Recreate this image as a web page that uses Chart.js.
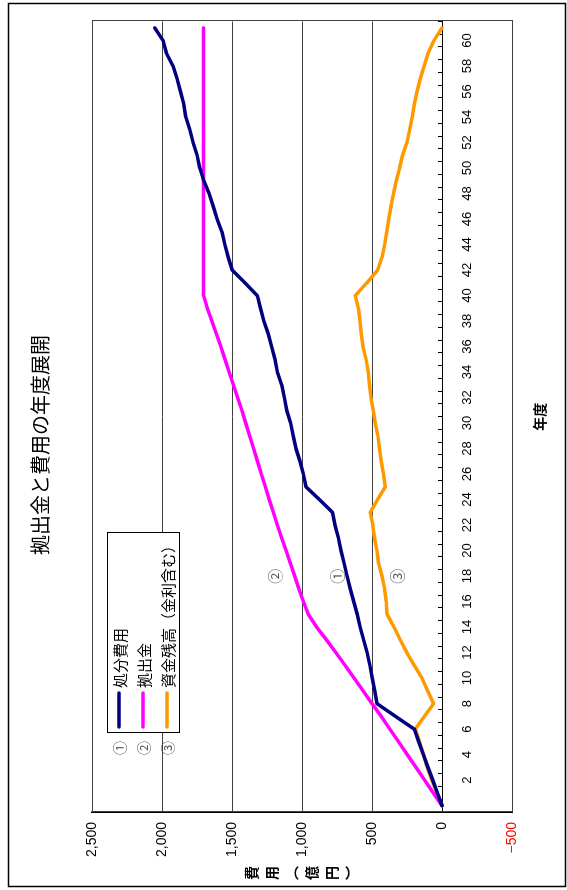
<!DOCTYPE html>
<html lang="ja">
<head>
<meta charset="utf-8">
<title>拠出金と費用の年度展開</title>
<script src="https://cdn.jsdelivr.net/npm/chart.js@4.4.1/dist/chart.umd.min.js"></script>
<style>
  html, body { margin: 0; padding: 0; background: #fff; overflow: hidden; }
  body { width: 567px; height: 890px; position: relative; }
  /* the chart is laid out landscape and turned a quarter turn counter-clockwise */
  #wrap {
    position: absolute; left: 0; top: 0;
    width: 890px; height: 567px;
    transform-origin: 0 0;
    transform: translate(0px, 890px) rotate(-90deg);
    background: #fff;
  }
  canvas { display: block; }
</style>
</head>
<body>
<div id="wrap"><canvas id="chart" width="890" height="567" style="width:890px;height:567px"></canvas></div>
<script>
// 年度 (categories)
const years = [0, 1, 2, 3, 4, 5, 6, 7, 8, 9, 10, 11, 12, 13, 14, 15, 16, 17, 18, 19,
  20, 21, 22, 23, 24, 25, 26, 27, 28, 29, 30, 31, 32, 33, 34, 35, 36, 37, 38, 39,
  40, 41, 42, 43, 44, 45, 46, 47, 48, 49, 50, 51, 52, 53, 54, 55, 56, 57, 58, 59, 60, 61];

// ① 処分費用 (億円)
const disposalCost = [0, 33, 66, 100, 133, 166, 198, 332, 465, 480,
  498, 515, 535, 560, 585, 605, 630, 655, 678, 699,
  721, 740, 764, 782, 875, 971, 990, 1014, 1043, 1062,
  1081, 1109, 1126, 1145, 1176, 1193, 1217, 1241, 1272, 1296,
  1319, 1408, 1498, 1527, 1551, 1572, 1606, 1634, 1663, 1701,
  1730, 1749, 1778, 1801, 1830, 1844, 1868, 1892, 1921, 1968,
  1992, 2052];

// ② 拠出金 (億円)
const contributions = [0, 62, 124, 186, 248, 310, 372, 434, 500, 563,
  628, 692, 758, 825, 895, 955, 990, 1022, 1052, 1083,
  1114, 1145, 1176, 1205, 1234, 1262, 1290, 1318, 1346, 1374,
  1402, 1430, 1460, 1490, 1520, 1550, 1580, 1612, 1644, 1676,
  1703, 1703, 1703, 1703, 1703, 1703, 1703, 1703, 1703, 1703,
  1703, 1703, 1703, 1703, 1703, 1703, 1703, 1703, 1703, 1703,
  1703, 1703];

// ③ 資金残高（金利含む） (億円)
const fundBalance = [0, 36, 72, 107, 131, 160, 191, 126, 60, 103,
  143, 198, 251, 298, 343, 392, 398, 410, 429, 453,
  465, 482, 494, 513, 460, 406, 418, 434, 446, 458,
  477, 491, 508, 518, 527, 542, 565, 577, 585, 597,
  620, 537, 460, 429, 410, 394, 380, 365, 346, 327,
  303, 282, 251, 231, 212, 198, 179, 155, 128, 100,
  58, 0];

// value axis ticks and their labels
const valueTicks = [-500, 0, 500, 1000, 1500, 2000, 2500];
const valueTickLabels = ['−500', '0', '500', '1,000', '1,500', '2,000', '2,500'];

const seriesNames = ['処分費用', '拠出金', '資金残高（金利含む）'];
const seriesMarks = ['①', '②', '③'];
const seriesColors = ['#000080', '#FF00FF', '#FF9900'];

const JP = '"Noto Sans CJK JP", "Noto Sans", sans-serif';
const NUM = '"Liberation Sans", Arial, sans-serif';

// frame, plot border, titles, legend and in-plot markers
const decorations = {
  id: 'decorations',
  beforeDraw(chart) {
    const { ctx, width, height } = chart;
    ctx.save();
    ctx.fillStyle = '#fff';
    ctx.fillRect(0, 0, width, height);
    ctx.strokeStyle = '#000';
    ctx.lineWidth = 1.5;
    ctx.strokeRect(3.5, 8.5, width - 7, height - 10);
    ctx.restore();
  },
  beforeDatasetsDraw(chart) {
    const { ctx, chartArea: a } = chart;
    ctx.save();
    ctx.strokeStyle = '#404040';
    ctx.lineWidth = 1;
    ctx.strokeRect(Math.round(a.left) + 0.5, Math.round(a.top) + 0.5,
      Math.round(a.right - a.left), Math.round(a.bottom - a.top));
    ctx.restore();
  },
  afterDraw(chart) {
    const { ctx, chartArea: a, scales: { x, y } } = chart;
    ctx.save();
    ctx.textAlign = 'center';
    ctx.textBaseline = 'middle';
    ctx.fillStyle = '#000';

    // chart title
    ctx.font = '20px ' + JP;
    ctx.fillText('拠出金と費用の年度展開', 445, 40);

    // category axis title
    ctx.font = 'bold 14px ' + JP;
    ctx.fillText('年度', (a.left + a.right) / 2, 540);

    // value axis title, written vertically
    const yTitle = ['費', '用', '︵', '億', '円', '︶'];
    ctx.font = 'bold 14px ' + JP;
    const midY = (a.top + a.bottom) / 2;
    yTitle.forEach((ch, i) => ctx.fillText(ch, 17, midY + (i - 2.5) * 20));

    // legend box
    const bx = 157, by = 107, bw = 200, bh = 72;
    ctx.fillStyle = '#fff';
    ctx.fillRect(bx, by, bw, bh);
    ctx.strokeStyle = '#000';
    ctx.lineWidth = 1;
    ctx.strokeRect(bx + 0.5, by + 0.5, bw, bh);
    chart.data.datasets.forEach((ds, i) => {
      const ry = by + 12 + i * 24;
      ctx.strokeStyle = ds.borderColor;
      ctx.lineWidth = 3.5;
      ctx.lineCap = 'round';
      ctx.beginPath();
      ctx.moveTo(bx + 6, ry);
      ctx.lineTo(bx + 40, ry);
      ctx.stroke();
      ctx.fillStyle = '#000';
      ctx.textAlign = 'left';
      ctx.font = '15px ' + JP;
      ctx.fillText(ds.label, bx + 45, ry + 1);
      ctx.textAlign = 'center';
      ctx.fillStyle = '#555';
      ctx.font = '14px ' + JP;
      ctx.fillText(seriesMarks[i], bx - 15, ry + 1);
    });

    // series markers inside the plot
    const markAt = [750, 1190, 320];
    ctx.fillStyle = '#555';
    ctx.font = '15px ' + JP;
    ctx.textAlign = 'center';
    markAt.forEach((v, i) => {
      ctx.fillText(seriesMarks[i], x.getPixelForValue(18), y.getPixelForValue(v));
    });
    ctx.restore();
  }
};

new Chart(document.getElementById('chart'), {
  type: 'line',
  data: {
    labels: years,
    datasets: [
      { label: seriesNames[0], data: disposalCost, borderColor: seriesColors[0] },
      { label: seriesNames[1], data: contributions, borderColor: seriesColors[1] },
      { label: seriesNames[2], data: fundBalance, borderColor: seriesColors[2] }
    ]
  },
  options: {
    responsive: false,
    animation: false,
    devicePixelRatio: 1,
    layout: { padding: { left: 20, right: 21.5, top: 92, bottom: 55 } },
    elements: {
      point: { radius: 0, hoverRadius: 0 },
      line: { tension: 0, borderWidth: 3.5, borderCapStyle: 'round', borderJoinStyle: 'round', fill: false }
    },
    plugins: {
      legend: { display: false },
      title: { display: false },
      tooltip: { enabled: false }
    },
    scales: {
      x: {
        type: 'category',
        offset: true,
        position: { y: 0 },
        grid: { display: true, offset: true, drawOnChartArea: false, drawTicks: true, tickLength: -5, color: '#000', lineWidth: 1 },
        border: { display: true, color: '#000', width: 1 },
        ticks: {
          autoSkip: false,
          maxRotation: 0,
          minRotation: 0,
          padding: 23,
          color: '#000',
          font: { family: NUM, size: 13 },
          callback: (v, i) => (i > 0 && i % 2 === 0) ? String(years[i]) : ''
        }
      },
      y: {
        min: valueTicks[0],
        max: valueTicks[valueTicks.length - 1],
        afterFit: (s) => { s.width = 58; },
        grid: { color: '#404040', lineWidth: 1, drawTicks: false },
        border: { display: true, color: '#000', width: 1.5 },
        ticks: {
          stepSize: 500,
          padding: 10,
          font: { family: NUM, size: 14 },
          color: (c) => c.tick && c.tick.value < 0 ? '#FF0000' : '#000',
          callback: (v) => {
            const i = valueTicks.indexOf(v);
            return i >= 0 ? valueTickLabels[i] : '';
          }
        }
      }
    }
  },
  plugins: [decorations]
});
</script>
</body>
</html>
